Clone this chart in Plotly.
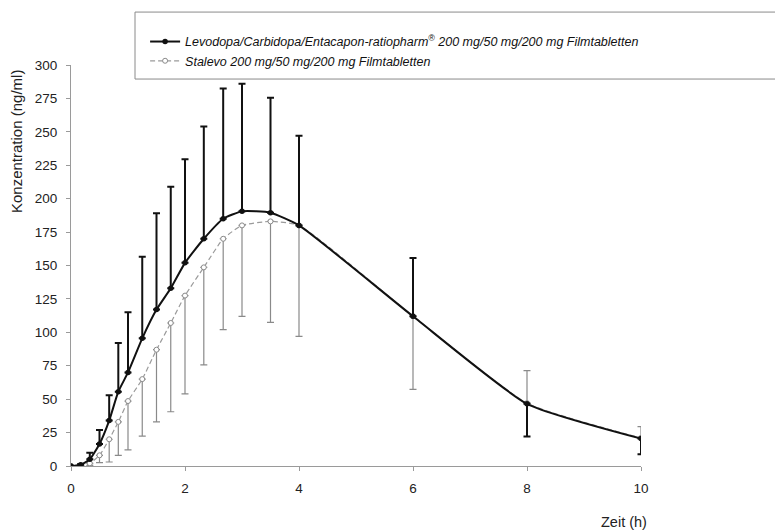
import plotly.graph_objects as go

# Time points (h)
zeit = [0, 0.17, 0.33, 0.5, 0.67, 0.83, 1.0, 1.25, 1.5, 1.75, 2.0, 2.33, 2.67, 3.0, 3.5, 4.0, 6.0, 8.0, 10.0]

# Test product (Levodopa/Carbidopa/Entacapon-ratiopharm)
test_mean = [0, 1, 5, 16.5, 34, 55.6, 70, 95.5, 117, 133, 152, 170, 185, 190.5, 189.5, 180, 112, 46.5, 20.5]
test_sd_up = [0, 0.5, 5, 10.5, 19, 36.4, 45, 61, 72, 76, 77.5, 84, 97.5, 95.5, 86, 67, 43.7, 0, 0]
test_sd_down = [0, 0, 0, 0, 0, 0, 0, 0, 0, 0, 0, 0, 0, 0, 0, 0, 0, 24.5, 11.8]

# Reference product (Stalevo)
ref_mean = [0, 0.5, 2, 8, 20, 33, 48.6, 65, 87, 107, 127.5, 148.6, 170, 180, 183, 180, 112, 47, 21]
ref_sd_down = [0, 0, 1.5, 5.5, 17, 25, 36.6, 42.6, 54, 66.4, 73.5, 73, 68, 68, 75.5, 83, 54.6, 0, 0]
ref_sd_up = [0, 0, 0, 0, 0, 0, 0, 0, 0, 0, 0, 0, 0, 0, 0, 0, 0, 24.3, 8.4]

x_ticks = [0, 2, 4, 6, 8, 10]
y_ticks = [0, 25, 50, 75, 100, 125, 150, 175, 200, 225, 250, 275, 300]

name_test = "<i>Levodopa/Carbidopa/Entacapon-ratiopharm<sup>®</sup> 200 mg/50 mg/200 mg Filmtabletten</i>"
name_ref = "<i>Stalevo 200 mg/50 mg/200 mg Filmtabletten</i>"

FONT = "Liberation Sans, Arial, sans-serif"

fig = go.Figure()

fig.add_trace(go.Scatter(
    x=zeit, y=ref_mean, name=name_ref, mode="lines+markers",
    line=dict(color="#9a9a9a", width=1.2, dash="5px,3px", shape="spline", smoothing=0.5),
    marker=dict(symbol="circle", size=5, color="white", line=dict(color="#8a8a8a", width=1)),
    error_y=dict(type="data", symmetric=False, array=ref_sd_up, arrayminus=ref_sd_down,
                 color="#8a8a8a", thickness=1.2, width=3.5),
))

fig.add_trace(go.Scatter(
    x=zeit, y=test_mean, name=name_test, mode="lines+markers",
    line=dict(color="#111111", width=2, shape="spline", smoothing=0.5),
    marker=dict(symbol="circle", size=5.5, color="#111111"),
    error_y=dict(type="data", symmetric=False, array=test_sd_up, arrayminus=test_sd_down,
                 color="#111111", thickness=2, width=3.5),
))

fig.update_layout(
    width=775, height=522,
    margin=dict(l=63, r=142, t=57, b=64),
    paper_bgcolor="white", plot_bgcolor="white",
    font=dict(family=FONT, size=12, color="#222222"),
    showlegend=True,
    legend=dict(
        x=0.130, y=1.095, xanchor="left", yanchor="top",
        bgcolor="rgba(0,0,0,0)", borderwidth=0,
        font=dict(family=FONT, size=12.5, color="#111111"),
        traceorder="reversed", tracegroupgap=0, itemwidth=30,
    ),
    xaxis=dict(
        range=[0, 10], tickvals=x_ticks, ticktext=[str(v) for v in x_ticks],
        showgrid=False, zeroline=False, showline=True, linecolor="#9a9a9a", linewidth=1,
        ticks="outside", ticklen=4, tickcolor="#9a9a9a", ticklabelstandoff=6,
        tickfont=dict(family=FONT, size=13.5, color="#222222"),
    ),
    yaxis=dict(
        range=[0, 300], tickvals=y_ticks, ticktext=[str(v) for v in y_ticks],
        showgrid=False, zeroline=False, showline=True, linecolor="#9a9a9a", linewidth=1,
        ticks="outside", ticklen=4, tickcolor="#9a9a9a", ticklabelstandoff=6,
        tickfont=dict(family=FONT, size=13.5, color="#222222"),
    ),
    shapes=[dict(
        type="rect", xref="paper", yref="paper",
        x0=0.1123, x1=1.35, y0=0.965, y1=1.132,
        line=dict(color="#8a8a8a", width=1), fillcolor="white", layer="above",
    )],
    annotations=[
        dict(text="Konzentration (ng/ml)", xref="paper", yref="paper",
             x=-0.0947, y=0.808, xanchor="center", yanchor="middle",
             textangle=-90, showarrow=False,
             font=dict(family=FONT, size=15, color="#222222")),
        dict(text="Zeit (h)", xref="paper", yref="paper",
             x=0.970, y=-0.1397, xanchor="center", yanchor="middle", showarrow=False,
             font=dict(family=FONT, size=14.5, color="#222222")),
    ],
)

fig.write_html("out.html")
